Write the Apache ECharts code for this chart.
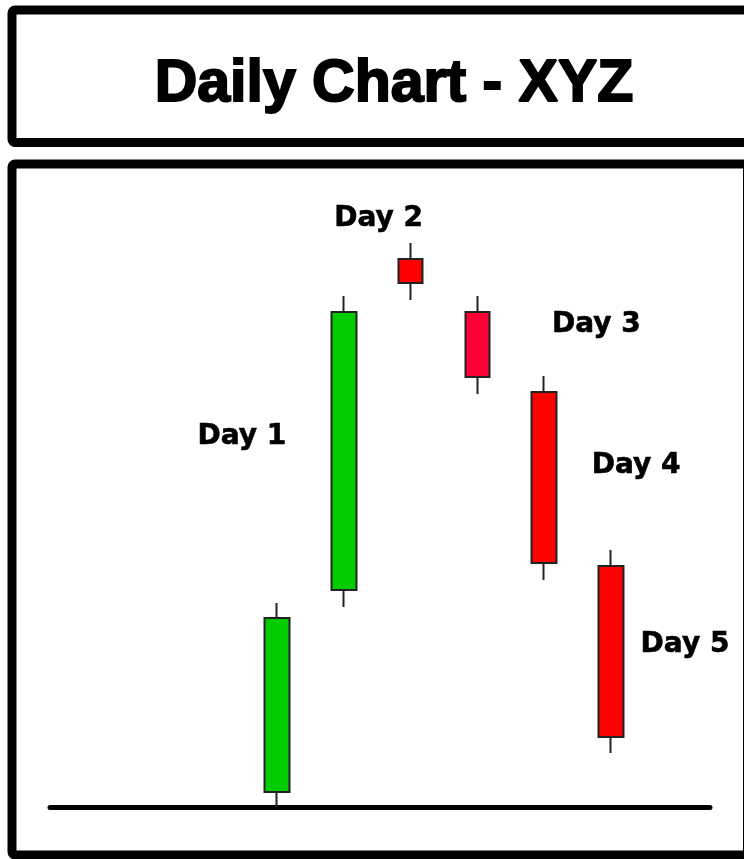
<!DOCTYPE html>
<html>
<head>
<meta charset="utf-8">
<script src="https://cdn.jsdelivr.net/npm/echarts@6/dist/echarts.min.js"></script>
<style>
  html, body { margin: 0; padding: 0; background: #ffffff; }
  #chart { width: 744px; height: 859px; }
</style>
</head>
<body>
<div id="chart"></div>
<script>
// ---- data (price units, baseline = 0) ----
const titleText = 'Daily Chart - XYZ';
const categories = ['Pre', 'Day 1', 'Day 2', 'Day 3', 'Day 4', 'Day 5'];
const opens  = [3.0, 43.4, 109.6, 99.0, 83.0, 48.2];
const closes = [37.8, 99.0, 104.8, 86.0, 48.8, 14.0];
const lows   = [0.0, 40.0, 101.4, 82.6, 45.4, 10.8];
const highs  = [40.8, 102.2, 112.8, 102.2, 86.2, 51.4];
const dayLabels = ['Day 1', 'Day 2', 'Day 3', 'Day 4', 'Day 5'];
const dayLabelIndex = [1, 2, 3, 4, 5];
const dayLabelLevel = [74.6, 118.2, 97.0, 68.8, 33.0];

// ---- styles ----
const labelOffsets = [[-102, 3], [-32, 3], [119, 3], [92, 3], [74, 3]];
const downColors = ['#ff0000', '#ff0000', '#ff0000', '#ff0036', '#ff0000', '#ff0000'];

const candleData = categories.map((c, i) => ({
  value: [opens[i], closes[i], lows[i], highs[i]],
  itemStyle: { color0: downColors[i] }
}));

const labelFont = {
  fontFamily: 'DejaVu Sans',
  fontWeight: 'bold',
  fontSize: 28,
  color: '#000000',
  textBorderColor: '#000000',
  textBorderWidth: 0.6
};

const labelData = dayLabels.map((t, k) => ({
  value: [dayLabelIndex[k], dayLabelLevel[k]],
  name: t,
  label: { offset: labelOffsets[k] }
}));

const chart = echarts.init(document.getElementById('chart'), null, { renderer: 'canvas' });
chart.setOption({
  backgroundColor: '#ffffff',
  animation: false,
  title: {
    text: titleText,
    left: 389,
    top: 50,
    textAlign: 'center',
    textStyle: {
      fontFamily: 'Liberation Sans',
      fontWeight: 'bold',
      fontSize: 59,
      color: '#000',
      textBorderColor: '#000',
      textBorderWidth: 2
    }
  },
  graphic: [
    { type: 'rect', shape: { x: 12, y: 10, width: 740, height: 132.5, r: 3 },
      style: { fill: 'none', stroke: '#000', lineWidth: 9 }, z: 100 },
    { type: 'rect', shape: { x: 12, y: 164, width: 735.5, height: 691, r: 3 },
      style: { fill: 'none', stroke: '#000', lineWidth: 9 }, z: 100 }
  ],
  grid: [
    { left: 243.6, width: 400.8, top: 207, bottom: 52 },
    { left: 50, right: 34, top: 207, bottom: 52 }
  ],
  xAxis: [
    { type: 'category', data: categories, gridIndex: 0, boundaryGap: true,
      axisLine: { show: false }, axisTick: { show: false }, axisLabel: { show: false },
      splitLine: { show: false } },
    { type: 'value', gridIndex: 1, min: 0, max: 1,
      axisLine: { show: true, onZero: false, lineStyle: { color: '#000', width: 5 } },
      axisTick: { show: false }, axisLabel: { show: false }, splitLine: { show: false } }
  ],
  yAxis: [
    { type: 'value', gridIndex: 0, min: 0, max: 120, show: false, splitLine: { show: false } },
    { type: 'value', gridIndex: 1, min: 0, max: 120, show: false, splitLine: { show: false } }
  ],
  series: [
    {
      type: 'candlestick',
      xAxisIndex: 0, yAxisIndex: 0,
      barWidth: 25,
      data: candleData,
      itemStyle: {
        color: '#00cc00',
        color0: '#ff0000',
        borderColor: '#222222',
        borderColor0: '#222222',
        borderWidth: 2
      },
      z: 3
    },
    {
      type: 'scatter',
      xAxisIndex: 0, yAxisIndex: 0,
      symbolSize: 0,
      itemStyle: { color: '#ffffff', opacity: 1 },
      data: labelData,
      label: Object.assign({
        show: true,
        position: 'top',
        distance: 0,
        formatter: p => p.name,
        align: 'center',
        verticalAlign: 'middle'
      }, labelFont),
      emphasis: { disabled: true },
      silent: true,
      z: 4
    }
  ]
});
</script>
</body>
</html>
